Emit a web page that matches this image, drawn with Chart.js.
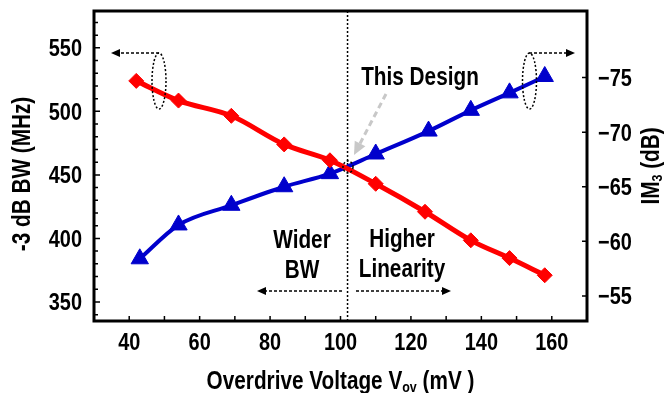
<!DOCTYPE html>
<html>
<head>
<meta charset="utf-8">
<script src="https://cdn.jsdelivr.net/npm/chart.js@4.4.1/dist/chart.umd.min.js"></script>
<style>
  html, body { margin: 0; padding: 0; background: #ffffff; }
  #wrap { width: 666px; height: 393px; }
</style>
</head>
<body>
<div id="wrap"><canvas id="c" width="666" height="393"></canvas></div>
<script>
// ---- data ----
const bwVov   = [42, 54, 69, 84, 97, 110, 124, 137, 148, 158];
const bwMHz   = [524, 508.5, 496.5, 474, 461.5, 443, 421, 398.5, 384.5, 371];
const im3Vov  = [43, 54, 69, 84, 97, 110, 125, 137, 148, 158];
const im3dB   = [-58.4, -61.5, -63.3, -65.0, -66.2, -68.0, -70.1, -72.0, -73.6, -75.1];
const xTicks  = [40, 60, 80, 100, 120, 140, 160];
const yTicks  = [350, 400, 450, 500, 550];
const y2Ticks = [-75, -70, -65, -60, -55];
const designVov = 102;

const FONT = "'Liberation Sans', Arial, Helvetica, sans-serif";
const SX = 0.83;           // horizontal condensing of the bold sans face
const RED = '#ff0000';
const BLUE = '#0000cc';

function toPts(xs, ys) { return xs.map((x, i) => ({ x: x, y: ys[i] })); }

// draws a sequence of [text, isSubscript] parts, condensed horizontally
function cText(ctx, parts, x, y, align, big, small) {
  if (typeof parts === 'string') parts = [[parts, false]];
  small = small || Math.round(big * 0.6);
  ctx.save();
  ctx.textAlign = 'left';
  ctx.textBaseline = 'alphabetic';
  let w = 0;
  parts.forEach(p => {
    ctx.font = 'bold ' + (p[1] ? small : big) + 'px ' + FONT;
    w += ctx.measureText(p[0]).width;
  });
  w *= SX;
  let x0 = x;
  if (align === 'center') x0 = x - w / 2;
  else if (align === 'right') x0 = x - w;
  ctx.translate(x0, y);
  ctx.scale(SX, 1);
  let cx = 0;
  parts.forEach(p => {
    ctx.font = 'bold ' + (p[1] ? small : big) + 'px ' + FONT;
    ctx.fillText(p[0], cx, p[1] ? 3 : 0);
    cx += ctx.measureText(p[0]).width;
  });
  ctx.restore();
}

function arrow(ctx, x1, y1, x2, y2, head, hw) {
  const a = Math.atan2(y2 - y1, x2 - x1);
  const bx = x2 - Math.cos(a) * head, by = y2 - Math.sin(a) * head;
  ctx.beginPath();
  ctx.moveTo(x1, y1);
  ctx.lineTo(bx, by);
  ctx.stroke();
  ctx.save();
  ctx.setLineDash([]);
  ctx.beginPath();
  ctx.moveTo(x2, y2);
  ctx.lineTo(bx + Math.sin(a) * hw, by - Math.cos(a) * hw);
  ctx.lineTo(bx - Math.sin(a) * hw, by + Math.cos(a) * hw);
  ctx.closePath();
  ctx.fill();
  ctx.restore();
}

const decor = {
  id: 'decor',
  beforeDatasetsDraw(chart) {
    const { ctx, chartArea: a, scales } = chart;
    const xv = scales.x.getPixelForValue(designVov);
    ctx.save();
    ctx.strokeStyle = '#000';
    ctx.lineWidth = 1.5;
    ctx.setLineDash([2, 2]);
    ctx.beginPath();
    ctx.moveTo(xv, a.top);
    ctx.lineTo(xv, a.bottom);
    ctx.stroke();
    ctx.restore();
  },
  afterDraw(chart) {
    const { ctx, chartArea: a, scales } = chart;
    ctx.save();
    // frame
    ctx.strokeStyle = '#000';
    ctx.lineWidth = 3;
    ctx.strokeRect(a.left, a.top, a.right - a.left, a.bottom - a.top);
    // inward tick marks
    ctx.lineWidth = 1.5;
    ctx.beginPath();
    for (let v = 40; v <= 160; v += 10) {
      const p = scales.x.getPixelForValue(v);
      ctx.moveTo(p, a.bottom); ctx.lineTo(p, a.bottom - 5);
    }
    for (let v = 340; v <= 570; v += 10) {
      const p = scales.y.getPixelForValue(v);
      const len = (v % 50 === 0) ? 6 : 4;
      ctx.moveTo(a.left, p); ctx.lineTo(a.left + len, p);
    }
    y2Ticks.forEach(v => {
      const p = scales.y2.getPixelForValue(v);
      ctx.moveTo(a.right, p); ctx.lineTo(a.right - 5, p);
    });
    ctx.stroke();

    // tick labels
    ctx.fillStyle = '#000';
    xTicks.forEach(v => cText(ctx, String(v), scales.x.getPixelForValue(v), 350, 'center', 24));
    yTicks.forEach(v => cText(ctx, String(v), a.left - 12, scales.y.getPixelForValue(v) + 8.5, 'right', 24));
    y2Ticks.forEach(v => cText(ctx, String(v).replace('-', '\u2212'), a.right + 11, scales.y2.getPixelForValue(v) + 8.5, 'left', 24));

    // axis titles
    cText(ctx, [['Overdrive Voltage V', false], ['ov', true], [' (mV )', false]], 340.5, 389, 'center', 25, 15);
    ctx.save();
    ctx.translate(30, 174);
    ctx.rotate(-Math.PI / 2);
    cText(ctx, '-3 dB BW (MHz)', 0, 0, 'center', 25);
    ctx.restore();
    ctx.save();
    ctx.translate(659, 166);
    ctx.rotate(-Math.PI / 2);
    cText(ctx, [['IM', false], ['3', true], [' (dB)', false]], 0, 0, 'center', 25, 15);
    ctx.restore();

    // annotation texts
    cText(ctx, 'This Design', 420, 85, 'center', 25);
    cText(ctx, 'Wider', 302, 248, 'center', 25);
    cText(ctx, 'BW', 302, 278, 'center', 25);
    cText(ctx, 'Higher', 402, 247, 'center', 25);
    cText(ctx, 'Linearity', 402, 277, 'center', 25);

    // dashed arrows
    ctx.strokeStyle = '#000';
    ctx.fillStyle = '#000';
    ctx.lineWidth = 1.5;
    ctx.setLineDash([3, 2]);
    arrow(ctx, 342, 291, 257, 291, 9, 4);
    arrow(ctx, 356, 291, 451, 291, 9, 4);
    arrow(ctx, 159, 53, 111, 53, 9, 4);
    arrow(ctx, 529, 53, 575, 53, 9, 4);

    // ellipses
    ctx.setLineDash([2, 2]);
    ctx.lineWidth = 1.5;
    ctx.beginPath();
    ctx.ellipse(159, 81, 7, 28, 0, 0, Math.PI * 2);
    ctx.stroke();
    ctx.beginPath();
    ctx.ellipse(529.5, 81, 7, 28, 0, 0, Math.PI * 2);
    ctx.stroke();
    ctx.beginPath();
    ctx.ellipse(348, 167, 5, 6, 0, 0, Math.PI * 2);
    ctx.stroke();

    // gray pointer arrow
    ctx.strokeStyle = '#c8c8c8';
    ctx.fillStyle = '#c8c8c8';
    ctx.lineWidth = 3;
    ctx.setLineDash([6, 4]);
    arrow(ctx, 386, 94, 354, 155, 13, 6);
    ctx.restore();
  }
};

new Chart(document.getElementById('c'), {
  type: 'line',
  data: {
    datasets: [
      {
        label: '-3 dB BW',
        data: toPts(bwVov, bwMHz),
        yAxisID: 'y',
        borderColor: RED,
        backgroundColor: RED,
        borderWidth: 5,
        pointStyle: 'rectRot',
        pointRadius: 7.5,
        pointBorderWidth: 1,
        cubicInterpolationMode: 'monotone'
      },
      {
        label: 'IM3',
        data: toPts(im3Vov, im3dB),
        yAxisID: 'y2',
        borderColor: BLUE,
        backgroundColor: BLUE,
        borderWidth: 4,
        pointStyle: 'triangle',
        pointRadius: 10,
        pointBorderWidth: 1,
        cubicInterpolationMode: 'monotone'
      }
    ]
  },
  options: {
    responsive: false,
    animation: false,
    devicePixelRatio: 1,
    layout: { padding: { top: 10, left: 0, right: 0, bottom: 0 } },
    plugins: { legend: { display: false }, tooltip: { enabled: false } },
    scales: {
      x: {
        type: 'linear',
        position: 'bottom',
        min: 30, max: 170,
        afterBuildTicks: s => { s.ticks = xTicks.map(v => ({ value: v })); },
        afterFit: s => { s.height = 72; },
        grid: { display: false, drawTicks: false },
        border: { display: false },
        ticks: { display: false }
      },
      y: {
        type: 'linear',
        position: 'left',
        min: 335, max: 579,
        afterBuildTicks: s => { s.ticks = yTicks.map(v => ({ value: v })); },
        afterFit: s => { s.width = 94; },
        grid: { display: false, drawTicks: false },
        border: { display: false },
        ticks: { display: false }
      },
      y2: {
        type: 'linear',
        position: 'right',
        reverse: true,
        min: -81.1, max: -52.7,
        afterBuildTicks: s => { s.ticks = y2Ticks.map(v => ({ value: v })); },
        afterFit: s => { s.width = 79; },
        grid: { display: false, drawTicks: false },
        border: { display: false },
        ticks: { display: false }
      }
    }
  },
  plugins: [decor]
});
</script>
</body>
</html>
